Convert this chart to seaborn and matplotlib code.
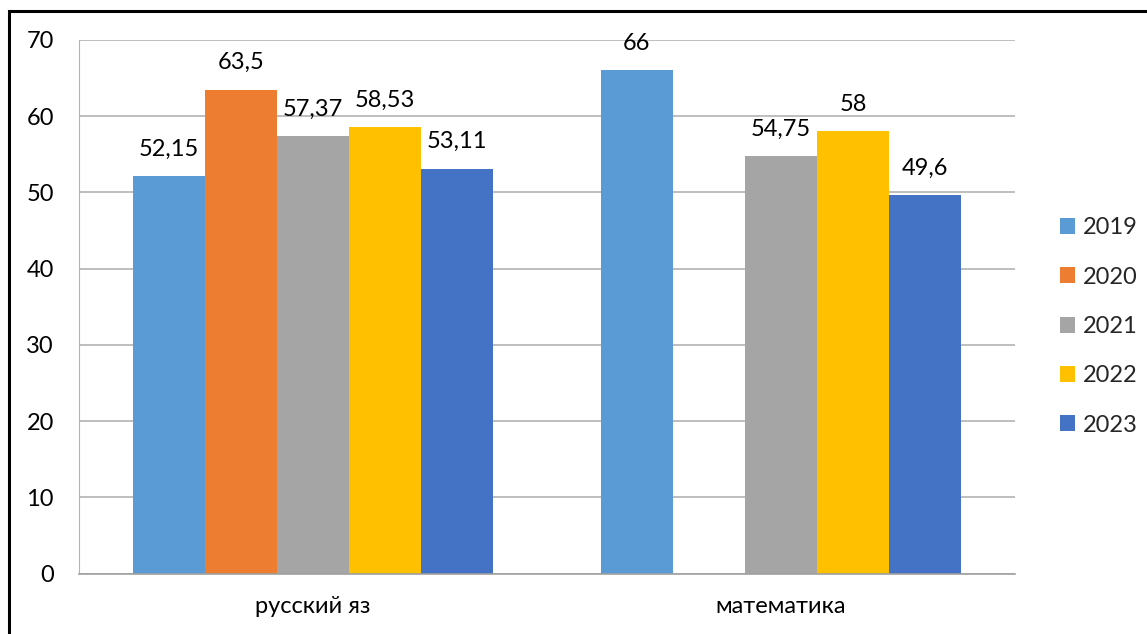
import numpy as np
import pandas as pd
import matplotlib
matplotlib.use("Agg")
import matplotlib.pyplot as plt
import seaborn as sns
from matplotlib.patches import Rectangle

# data
subjects = ["русский яз", "математика"]
years = ["2019", "2020", "2021", "2022", "2023"]
rus_scores = [52.15, 63.5, 57.37, 58.53, 53.11]
math_scores = [66, np.nan, 54.75, 58, 49.6]
year_colors = ["#5B9BD5", "#ED7D31", "#A5A5A5", "#FFC000", "#4472C4"]
y_ticks = [0, 10, 20, 30, 40, 50, 60, 70]

rows = []
for subj, scores in zip(subjects, [rus_scores, math_scores]):
    for yr, val in zip(years, scores):
        rows.append({"subject": subj, "year": yr, "score": val})
df = pd.DataFrame(rows)

sns.set_style("white")
plt.rcParams["font.family"] = ["Lato", "DejaVu Sans"]
fs = 17

fig = plt.figure(figsize=(11.47, 6.34), dpi=100)
ax = fig.add_axes([79 / 1147, 1 - 573.5 / 634, (1015 - 79) / 1147, (573.5 - 40) / 634])

sns.barplot(data=df, x="subject", y="score", hue="year", hue_order=years,
            palette=year_colors, width=0.77, saturation=1, ax=ax, linewidth=0,
            order=subjects)

# value labels with comma decimals
for cont in ax.containers:
    labels = []
    for bar in cont:
        h = bar.get_height()
        if np.isnan(h) or h == 0:
            labels.append("")
        else:
            labels.append(("%g" % h).replace(".", ","))
    ax.bar_label(cont, labels=labels, padding=12, fontsize=fs, color="black")

ax.set_ylim(0, 70)
ax.set_xlim(-0.5, 1.5)
ax.set_yticks(y_ticks)
ax.set_yticklabels([str(t) for t in y_ticks])
ax.yaxis.grid(True, color="#B3B3B3", linewidth=1.2)
ax.set_axisbelow(True)
ax.set_xlabel("")
ax.set_ylabel("")

for s in ["top", "right"]:
    ax.spines[s].set_visible(False)
ax.spines["left"].set_color("#B3B3B3")
ax.spines["bottom"].set_color("#A0A0A0")
ax.spines["bottom"].set_linewidth(1.2)

ax.tick_params(axis="y", length=8, color="#B3B3B3", labelsize=fs, pad=10, labelcolor="black")
ax.tick_params(axis="x", which="major", length=0, labelsize=fs, pad=16, labelcolor="black")
ax.set_xticks([-0.5, 0.5, 1.5], minor=True)
ax.tick_params(axis="x", which="minor", length=8, color="#A0A0A0", width=1.2)

leg = ax.legend(loc="center left", bbox_to_anchor=(1.025, 0.463), frameon=False,
                fontsize=fs, handlelength=0.65, handleheight=0.65,
                handletextpad=0.35, labelspacing=1.2)

# outer frame, only left and top visible in the reference
fig.patches.append(Rectangle((9 / 1147, -0.1), 1.2, 1 - 11 / 634 + 0.1,
                             transform=fig.transFigure, fill=False,
                             edgecolor="black", linewidth=2.2))

fig.savefig("out.png", dpi=100)
